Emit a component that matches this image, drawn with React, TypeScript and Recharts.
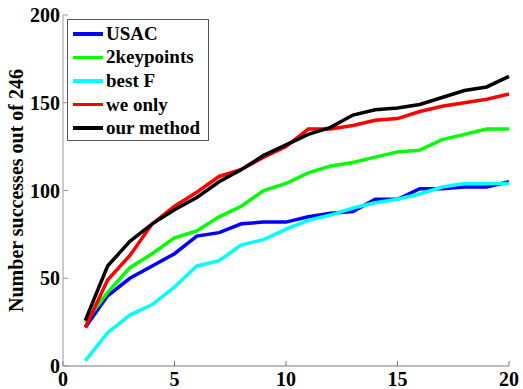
import { LineChart, Line, XAxis, YAxis } from 'recharts';

const runs = [1, 2, 3, 4, 5, 6, 7, 8, 9, 10, 11, 12, 13, 14, 15, 16, 17, 18, 19, 20];
const usac = [22, 40, 50, 57, 64, 74, 76, 81, 82, 82, 85, 87, 88, 95, 95, 101, 101, 102, 102, 105];
const twoKeypoints = [25, 42, 56, 64, 73, 77, 85, 91, 100, 104, 110, 114, 116, 119, 122, 123, 129, 132, 135, 135];
const bestF = [3, 19, 29, 35, 45, 57, 60, 69, 72, 78, 83, 86, 90, 93, 95, 98, 102, 104, 104, 104];
const weOnly = [22, 49, 63, 81, 91, 99, 108, 112, 119, 125, 135, 135, 137, 140, 141, 145, 148, 150, 152, 155];
const ourMethod = [26, 57, 71, 81, 89, 96, 105, 112, 120, 126, 132, 136, 143, 146, 147, 149, 153, 157, 159, 165];

const xTicks = [0, 5, 10, 15, 20];
const yTicks = [0, 50, 100, 150, 200];

const series = [
  { key: 'usac', name: 'USAC', color: '#0000ff' },
  { key: 'two', name: '2keypoints', color: '#00ff00' },
  { key: 'bestF', name: 'best F', color: '#00ffff' },
  { key: 'weOnly', name: 'we only', color: '#ff0000' },
  { key: 'ours', name: 'our method', color: '#000000' },
];

const data = runs.map((r, i) => ({
  run: r,
  usac: usac[i],
  two: twoKeypoints[i],
  bestF: bestF[i],
  weOnly: weOnly[i],
  ours: ourMethod[i],
}));

const font = '"Liberation Serif", "Times New Roman", serif';
const tickStyle = { fill: '#000', fontSize: 20, fontWeight: 'bold', fontFamily: font };

// boxed legend like the matlab one (kept outside recharts so it doesn't eat plot space)
function LegendBox() {
  return (
    <div
      style={{
        position: 'absolute',
        left: 67,
        top: 19,
        border: '1px solid #555',
        background: '#fff',
        width: 142,
        height: 122,
        boxSizing: 'border-box',
        paddingTop: 2,
        fontFamily: font,
        fontWeight: 'bold',
        fontSize: 19,
      }}
    >
      {series.map((s) => (
        <div key={s.key} style={{ display: 'flex', alignItems: 'center', height: 23.6 }}>
          <div style={{ width: 30, height: 3.5, background: s.color, marginLeft: 5, marginRight: 3 }} />
          <span style={{ lineHeight: '20px' }}>{s.name}</span>
        </div>
      ))}
    </div>
  );
}

export default function App() {
  return (
    <div style={{ position: 'absolute', left: 0, top: 0, width: 523, height: 389, background: '#fff' }}>
      <LineChart width={523} height={389} data={data} margin={{ top: 15, right: 14, bottom: 0, left: 0 }}>
        <XAxis
          dataKey="run"
          type="number"
          domain={[0, 20]}
          ticks={xTicks}
          height={23}
          stroke="#777"
          tickSize={-5}
          tickMargin={11}
          tick={tickStyle}
          interval={0}
        />
        <YAxis
          type="number"
          domain={[0, 200]}
          ticks={yTicks}
          width={63}
          stroke="#999"
          tickSize={-5}
          tickMargin={8}
          tick={tickStyle}
          interval={0}
          label={{
            value: 'Number successes out of 246',
            angle: -90,
            position: 'center',
            dx: -16,
            style: { fill: '#000', fontSize: 20, fontWeight: 'bold', fontFamily: font },
          }}
        />
        {series.map((s) => (
          <Line
            key={s.key}
            type="linear"
            dataKey={s.key}
            name={s.name}
            stroke={s.color}
            strokeWidth={3.5}
            dot={false}
            isAnimationActive={false}
          />
        ))}
      </LineChart>
      <LegendBox />
    </div>
  );
}
